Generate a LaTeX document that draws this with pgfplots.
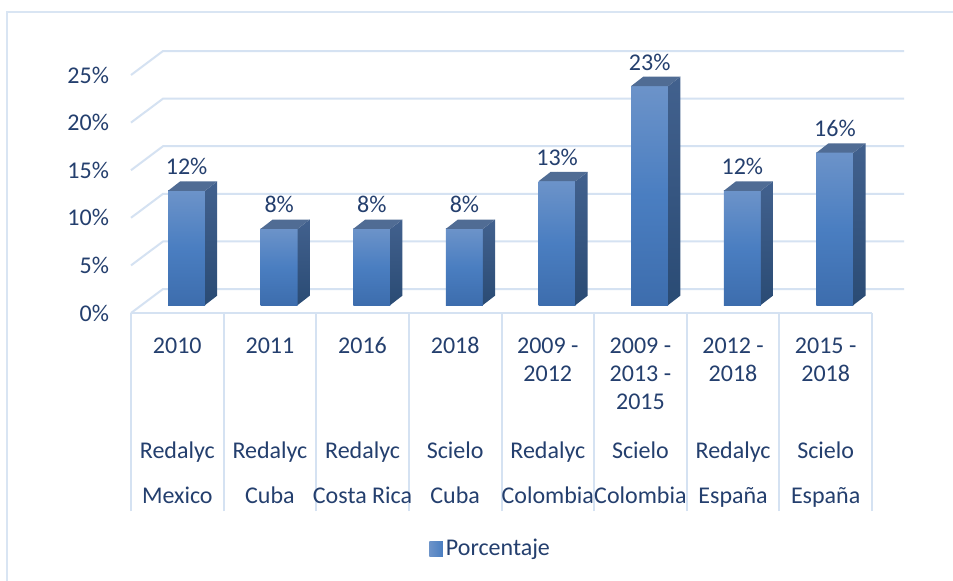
\documentclass[border=0pt]{standalone}
\usepackage{pgfplots}
\pgfplotsset{compat=1.18}
\usepackage{pgfplotstable}
\usepackage{fontspec}
\setmainfont{Carlito}
\definecolor{gridcol}{HTML}{D5E2F2}
\definecolor{framecol}{HTML}{D9E5F3}
\definecolor{textcol}{HTML}{243F6E}
\definecolor{barTop}{HTML}{6C93C9}
\definecolor{barMid}{HTML}{4A7EC1}
\definecolor{barBot}{HTML}{3D6DAD}
\definecolor{sideTop}{HTML}{42618E}
\definecolor{sideBot}{HTML}{2A4B74}
\definecolor{topC}{HTML}{506C94}

\pgfplotstableread{
x v
0 12
1 8
2 8
3 8
4 13
5 23
6 12
7 16
}\data

\begin{document}
\begin{tikzpicture}
\useasboundingbox (0,0) rectangle (476.5pt,290pt);
\fill[white] (0,0) rectangle (476.5pt,290pt);
\draw[framecol, line width=1pt] (3.5pt,-5pt) -- (3.5pt,284pt) -- (482pt,284pt);
\begin{axis}[
  at={(65.5pt,133.5pt)}, anchor=south west,
  scale only axis, width=370.5pt, height=119pt,
  xmin=0, xmax=8, ymin=0, ymax=25,
  clip=false,
  axis line style={draw=none},
  xtick pos=bottom, ytick pos=left,
  tick align=outside,
  major tick length=0pt,
  minor tick length=99pt,
  minor xtick={0,1,2,3,4,5,6,7,8},
  minor tick style={gridcol, line width=1pt},
  xtick={0.5,1.5,2.5,3.5,4.5,5.5,6.5,7.5},
  xticklabels={2010,2011,2016,2018,{2009 -\\2012},{2009 -\\2013 -\\2015},{2012 -\\2018},{2015 -\\2018}},
  extra x ticks={0.5,1.5,2.5,3.5,4.5,5.5,6.5,7.5},
  extra x tick labels={{Redalyc\\[8.5pt]Mexico},{Redalyc\\[8.5pt]Cuba},{Redalyc\\[8.5pt]Costa Rica},{Scielo\\[8.5pt]Cuba},{Redalyc\\[8.5pt]Colombia},{Scielo\\[8.5pt]Colombia},{Redalyc\\[8.5pt]España},{Scielo\\[8.5pt]España}},
  extra x tick style={major tick length=0pt, tick label style={yshift=-52pt}},
  xticklabel style={yshift=-8.7pt, align=center},
  tick label style={font=\fontsize{12}{14}\selectfont, text=textcol},
  ytick={0,5,10,15,20,25},
  yticklabels={0\%,5\%,10\%,15\%,20\%,25\%},
  yticklabel style={xshift=-7.5pt},
  /pgf/number format/assume math mode=true,
  legend style={at={(0.486,-0.992)}, anchor=center, draw=none, fill=none,
    font=\fontsize{12}{14}\selectfont, text=textcol,
    nodes={inner xsep=1.5pt}},
]
% back wall and floor gridlines
\addplot[forget plot, gridcol, line width=1pt, mark=none] coordinates {(0,0) (0.346,2.52) (8.346,2.52)};
\addplot[forget plot, gridcol, line width=1pt, mark=none] coordinates {(0,5) (0.346,7.52) (8.346,7.52)};
\addplot[forget plot, gridcol, line width=1pt, mark=none] coordinates {(0,10) (0.346,12.52) (8.346,12.52)};
\addplot[forget plot, gridcol, line width=1pt, mark=none] coordinates {(0,15) (0.346,17.52) (8.346,17.52)};
\addplot[forget plot, gridcol, line width=1pt, mark=none] coordinates {(0,20) (0.346,22.52) (8.346,22.52)};
\addplot[forget plot, gridcol, line width=1pt, mark=none] coordinates {(0,25) (0.346,27.52) (8.346,27.52)};
\addplot[forget plot, gridcol, line width=1pt, mark=none] coordinates {(0,0) (8,0)};
% 3D bars
\pgfplotsinvokeforeach{0,...,7}{
  \pgfplotstablegetelem{#1}{v}\of\data
  \pgfmathsetmacro\vf{\pgfplotsretval+0.84}
  \pgfmathsetmacro\vb{\pgfplotsretval+1.82}
  \addplot[forget plot, draw=none, mark=none, top color=barTop, bottom color=barBot, middle color=barMid]
    coordinates {(#1.40,0.84) (#1.80,0.84) (#1.80,\vf) (#1.40,\vf)} -- cycle;
  \addplot[forget plot, draw=none, mark=none, top color=sideTop, bottom color=sideBot]
    coordinates {(#1.80,0.84) (#1.93,1.82) (#1.93,\vb) (#1.80,\vf)} -- cycle;
  \addplot[forget plot, draw=none, mark=none, fill=topC]
    coordinates {(#1.40,\vf) (#1.80,\vf) (#1.93,\vb) (#1.53,\vb)} -- cycle;
}
% data labels
\addplot[forget plot, only marks, mark=*, mark size=0pt, mark options={draw=none, fill=none},
  point meta=explicit,
  nodes near coords={\pgfmathprintnumber{\pgfplotspointmeta}\%},
  nodes near coords style={font=\fontsize{12}{14}\selectfont, text=textcol, anchor=south, inner sep=3pt}]
  table[x expr=\thisrow{x}+0.60, y expr=\thisrow{v}+1.82, meta=v] {\data};
\addlegendimage{draw=none, legend image code/.code={\path[draw=none, left color=barTop, right color=barMid] (0pt,-3.8pt) rectangle (6.8pt,3.8pt);}}
\addlegendentry{Porcentaje}
\end{axis}
\end{tikzpicture}
\end{document}
